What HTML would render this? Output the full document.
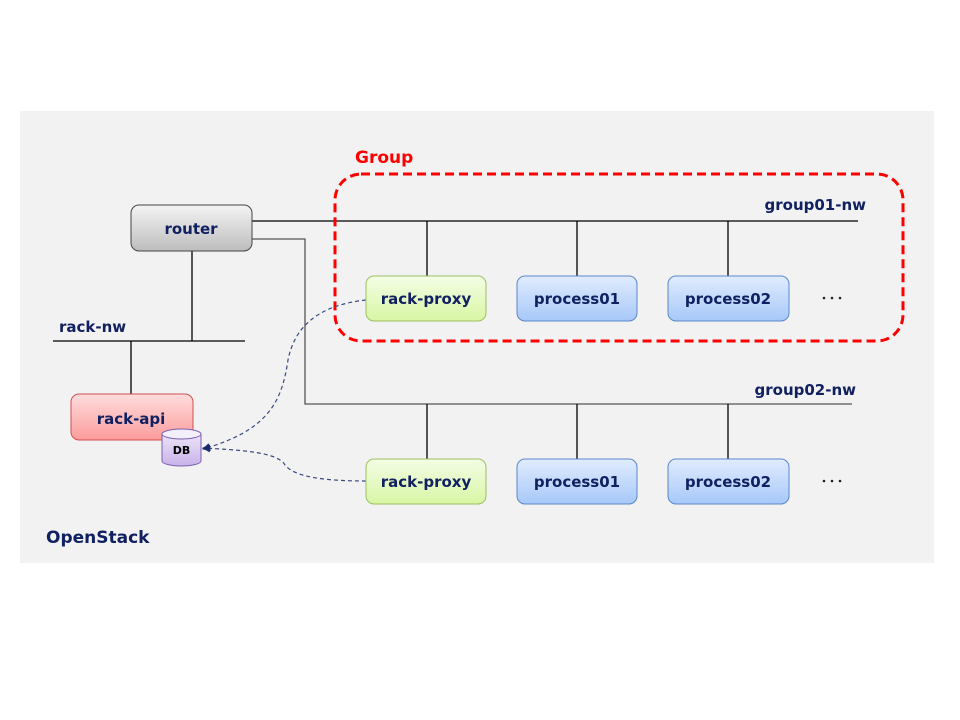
<!DOCTYPE html>
<html><head><meta charset="utf-8"><style>
html,body{margin:0;padding:0;background:#fff;}
svg{display:block;}
text{font-family:"DejaVu Sans","Liberation Sans",sans-serif;font-weight:bold;}
</style></head><body>
<svg width="960" height="720" viewBox="0 0 960 720" xmlns="http://www.w3.org/2000/svg">
<defs>
<linearGradient id="gGray" x1="0" y1="0" x2="0" y2="1"><stop offset="0" stop-color="#f4f4f4"/><stop offset="1" stop-color="#bdbdbd"/></linearGradient>
<linearGradient id="gRed" x1="0" y1="0" x2="0" y2="1"><stop offset="0" stop-color="#ffdcdc"/><stop offset="1" stop-color="#fb9c9c"/></linearGradient>
<linearGradient id="gGreen" x1="0" y1="0" x2="0" y2="1"><stop offset="0" stop-color="#f4fde6"/><stop offset="1" stop-color="#d8f6a4"/></linearGradient>
<linearGradient id="gBlue" x1="0" y1="0" x2="0" y2="1"><stop offset="0" stop-color="#e0ecfe"/><stop offset="1" stop-color="#a7c8f8"/></linearGradient>
<linearGradient id="gPurp" x1="0" y1="0" x2="0" y2="1"><stop offset="0" stop-color="#ece4f8"/><stop offset="1" stop-color="#c8b2ea"/></linearGradient>
<marker id="arr" markerWidth="8" markerHeight="8" refX="7" refY="4" orient="auto" markerUnits="userSpaceOnUse"><path d="M0,0 L8,4 L0,8 z" fill="#1a2a6c"/></marker>
</defs>
<rect x="20" y="111" width="914" height="452" fill="#f2f2f2"/>

<g stroke="#000" stroke-width="1.3" fill="none">
<line x1="252" y1="221" x2="858" y2="221"/>
<polyline points="252,239 305,239 305,404 852,404" stroke="#555"/>
<line x1="192" y1="251" x2="192" y2="341"/>
<line x1="53" y1="341" x2="245" y2="341"/>
<line x1="131" y1="341" x2="131" y2="394"/>
<line x1="427" y1="221" x2="427" y2="276"/>
<line x1="577" y1="221" x2="577" y2="276"/>
<line x1="728" y1="221" x2="728" y2="276"/>
<line x1="427" y1="404" x2="427" y2="459"/>
<line x1="577" y1="404" x2="577" y2="459"/>
<line x1="728" y1="404" x2="728" y2="459"/>
</g>

<rect x="335" y="174" width="568" height="167" rx="26" fill="none" stroke="#ff0000" stroke-width="3" stroke-dasharray="9,5"/>
<text x="355" y="163" font-size="17" fill="#ff0000">Group</text>

<rect x="131" y="205" width="121" height="46" rx="8" fill="url(#gGray)" stroke="#444" stroke-width="1"/>
<text x="191" y="234" font-size="15" fill="#102060" text-anchor="middle">router</text>

<text x="59" y="332" font-size="15" fill="#102060">rack-nw</text>

<rect x="71" y="394" width="122" height="46" rx="8" fill="url(#gRed)" stroke="#d05050" stroke-width="1"/>
<text x="131" y="424" font-size="15" fill="#102060" text-anchor="middle">rack-api</text>

<path d="M162,434 L162,461 A19.5,5 0 0 0 201,461 L201,434" fill="url(#gPurp)" stroke="#7a60b0" stroke-width="1"/>
<ellipse cx="181.5" cy="434" rx="19.5" ry="5" fill="#f4f0fb" stroke="#7a60b0" stroke-width="1"/>
<text x="181.5" y="454" font-size="11" fill="#000" text-anchor="middle">DB</text>

<g stroke="#3a4a80" stroke-width="1.2" fill="none" stroke-dasharray="4,3">
<path d="M366,300 C320,305 295,325 288,360 C282,400 270,430 203,449" marker-end="url(#arr)"/>
<path d="M366,481 C330,481 295,478 285,465 C278,452 240,450 203,448" marker-end="url(#arr)"/>
</g>

<rect x="366" y="276" width="120" height="45" rx="8" fill="url(#gGreen)" stroke="#9cc060" stroke-width="1"/>
<text x="426" y="304" font-size="15" fill="#102060" text-anchor="middle">rack-proxy</text>
<rect x="517" y="276" width="120" height="45" rx="8" fill="url(#gBlue)" stroke="#5a88c8" stroke-width="1"/>
<text x="577" y="304" font-size="15" fill="#102060" text-anchor="middle">process01</text>
<rect x="668" y="276" width="121" height="45" rx="8" fill="url(#gBlue)" stroke="#5a88c8" stroke-width="1"/>
<text x="728" y="304" font-size="15" fill="#102060" text-anchor="middle">process02</text>
<g fill="#222"><circle cx="824" cy="298" r="1.3"/><circle cx="832" cy="298" r="1.3"/><circle cx="840" cy="298" r="1.3"/>
<circle cx="824" cy="481" r="1.3"/><circle cx="832" cy="481" r="1.3"/><circle cx="840" cy="481" r="1.3"/></g>

<rect x="366" y="459" width="120" height="45" rx="8" fill="url(#gGreen)" stroke="#9cc060" stroke-width="1"/>
<text x="426" y="487" font-size="15" fill="#102060" text-anchor="middle">rack-proxy</text>
<rect x="517" y="459" width="120" height="45" rx="8" fill="url(#gBlue)" stroke="#5a88c8" stroke-width="1"/>
<text x="577" y="487" font-size="15" fill="#102060" text-anchor="middle">process01</text>
<rect x="668" y="459" width="121" height="45" rx="8" fill="url(#gBlue)" stroke="#5a88c8" stroke-width="1"/>
<text x="728" y="487" font-size="15" fill="#102060" text-anchor="middle">process02</text>

<text x="866" y="210" font-size="15" fill="#102060" text-anchor="end">group01-nw</text>
<text x="856" y="395" font-size="15" fill="#102060" text-anchor="end">group02-nw</text>
<text x="46" y="543" font-size="17" fill="#102060">OpenStack</text>
</svg>
</body></html>
